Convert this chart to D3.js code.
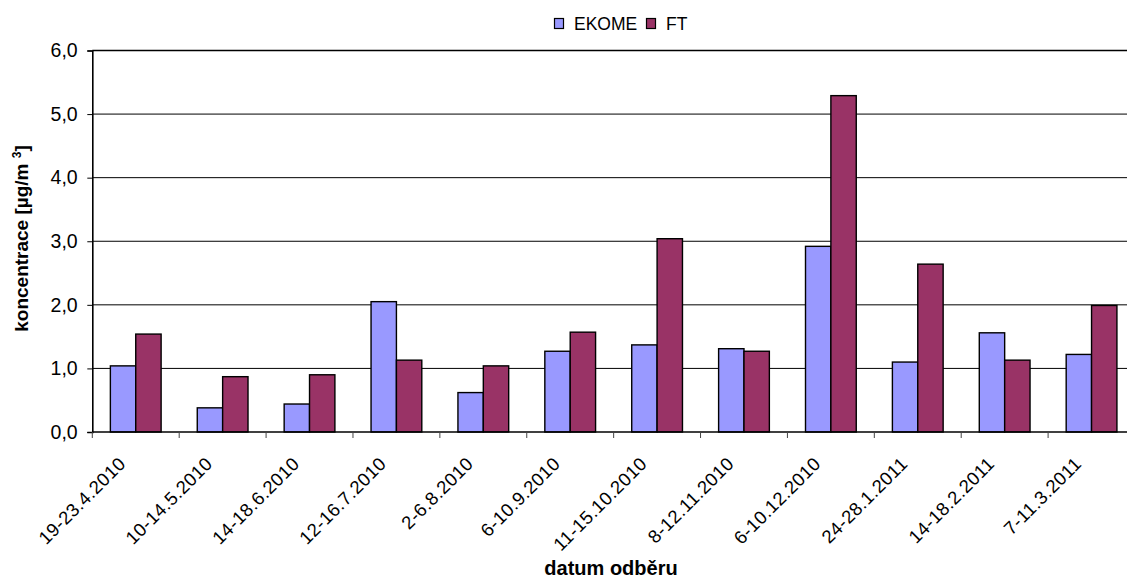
<!DOCTYPE html>
<html>
<head>
<meta charset="utf-8">
<script src="https://cdn.jsdelivr.net/npm/d3@7"></script>
<style>
  html, body { margin: 0; padding: 0; background: #fff; }
  svg { display: block; font-family: "Liberation Sans", Arial, sans-serif; }
</style>
</head>
<body>
<svg id="chart" width="1127" height="579"></svg>
<script>
// Sampling periods
const categories = [
  "19-23.4.2010", "10-14.5.2010", "14-18.6.2010", "12-16.7.2010",
  "2-6.8.2010", "6-10.9.2010", "11-15.10.2010", "8-12.11.2010",
  "6-10.12.2010", "24-28.1.2011", "14-18.2.2011", "7-11.3.2011"
];
// Concentrations [µg/m3]
const ekome = [1.04, 0.38, 0.44, 2.05, 0.62, 1.27, 1.37, 1.31, 2.92, 1.10, 1.56, 1.22];
const ft    = [1.54, 0.87, 0.90, 1.13, 1.04, 1.57, 3.04, 1.27, 5.29, 2.64, 1.13, 1.99];
const seriesNames = ["EKOME", "FT"];
const seriesColors = ["#9999FF", "#993366"];
const yTicks = [0, 1, 2, 3, 4, 5, 6];

const svg = d3.select("#chart");
const plotLeft = 92.3, plotRight = 1135, plotTop = 50.5, plotBottom = 432;

const x = d3.scaleBand().domain(categories).range([plotLeft, plotRight]).padding(0);
const groupW = x.bandwidth() * 0.584;
const x1 = d3.scaleBand().domain(seriesNames).range([0, groupW]).padding(0);
const y = d3.scaleLinear().domain([0, 6]).range([plotBottom, plotTop]);

const fmt = v => d3.format(".1f")(v).replace(".", ",");

// horizontal gridlines
svg.append("g").selectAll("line").data(yTicks.slice(1)).join("line")
  .attr("x1", plotLeft).attr("x2", plotRight)
  .attr("y1", d => y(d)).attr("y2", d => y(d))
  .attr("stroke", "#000").attr("stroke-width", d => d === 6 ? 1.6 : 1);

// bars
const rows = categories.map((c, i) => ({ c, vals: [ekome[i], ft[i]] }));
const groups = svg.append("g").selectAll("g").data(rows).join("g")
  .attr("transform", d => `translate(${x(d.c) + (x.bandwidth() - groupW) / 2},0)`);
groups.selectAll("rect").data(d => d.vals.map((v, j) => ({ v, s: seriesNames[j], j })))
  .join("rect")
  .attr("x", d => x1(d.s))
  .attr("width", x1.bandwidth())
  .attr("y", d => y(d.v))
  .attr("height", d => y(0) - y(d.v))
  .attr("fill", d => seriesColors[d.j])
  .attr("stroke", "#000").attr("stroke-width", 1.4);

// y axis
const yAxis = d3.axisLeft(y).tickValues(yTicks).tickFormat(fmt).tickSize(5).tickPadding(9.6);
const gy = svg.append("g").attr("transform", `translate(${plotLeft},0)`).call(yAxis);
gy.select(".domain").attr("stroke", "#000").attr("stroke-width", 1.6);
gy.selectAll(".tick line").attr("stroke", "#000");
gy.selectAll(".tick text").attr("font-size", 19.5).attr("fill", "#000")
  .attr("font-family", "'Liberation Sans', Arial, sans-serif");

// x axis baseline and category boundary ticks
svg.append("line").attr("x1", plotLeft).attr("x2", plotRight)
  .attr("y1", plotBottom).attr("y2", plotBottom).attr("stroke", "#000").attr("stroke-width", 1.4);
svg.append("g").selectAll("line").data(categories).join("line")
  .attr("x1", d => x(d)).attr("x2", d => x(d))
  .attr("y1", plotBottom).attr("y2", plotBottom + 6)
  .attr("stroke", "#444").attr("stroke-width", 1);

// rotated category labels
svg.append("g").selectAll("text").data(categories).join("text")
  .attr("transform", d => `translate(${x(d) + x.bandwidth() / 2 - 9},${plotBottom + 33}) rotate(-45)`)
  .attr("text-anchor", "end")
  .attr("font-size", 18.5)
  .attr("letter-spacing", 0.4)
  .attr("fill", "#000")
  .text(d => d);

// axis titles
svg.append("text")
  .attr("x", 611).attr("y", 575)
  .attr("text-anchor", "middle")
  .attr("font-size", 20).attr("font-weight", "bold")
  .text("datum odběru");

const yt = svg.append("text")
  .attr("transform", "translate(28,238.5) rotate(-90)")
  .attr("text-anchor", "middle")
  .attr("font-size", 19).attr("font-weight", "bold");
yt.append("tspan").text("koncentrace [µg/m ");
yt.append("tspan").attr("font-size", 12).attr("dy", -7).text("3");
yt.append("tspan").attr("dy", 7).text("]");

// legend
const legend = svg.append("g");
const legendItems = [{ name: "EKOME", x: 554.5 }, { name: "FT", x: 646.5 }];
legendItems.forEach((it, i) => {
  legend.append("rect").attr("x", it.x).attr("y", 18.5).attr("width", 9).attr("height", 10)
    .attr("fill", seriesColors[i]).attr("stroke", "#000").attr("stroke-width", 1.2);
  legend.append("text").attr("x", it.x + 19.5).attr("y", 29.5)
    .attr("font-size", 17.5).attr("fill", "#000").text(it.name);
});
</script>
</body>
</html>
